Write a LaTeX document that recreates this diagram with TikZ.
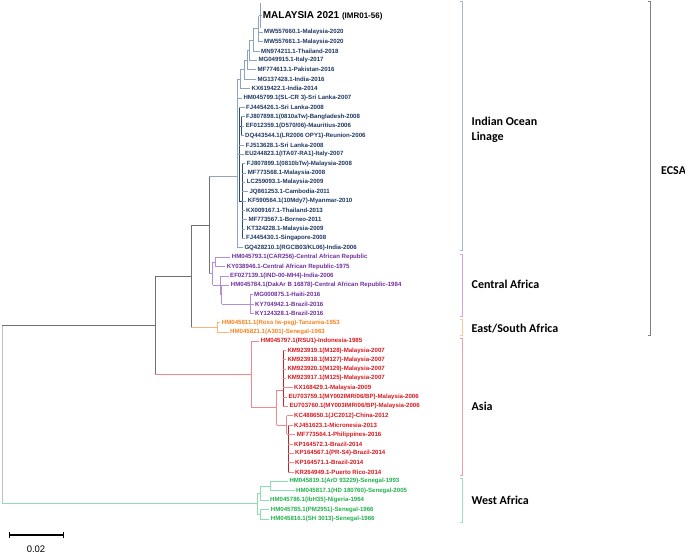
\documentclass[tikz,border=0pt]{standalone}
\usepackage{fontspec}
\setmainfont{Liberation Sans}
\newfontfamily\carl{Carlito}
\definecolor{iolT}{HTML}{1F3864}
\definecolor{iolL}{HTML}{8FA3C4}
\definecolor{iolD}{HTML}{2E4A7D}
\definecolor{caT}{HTML}{7030A0}
\definecolor{caL}{HTML}{B48EDB}
\definecolor{esT}{HTML}{F58220}
\definecolor{esL}{HTML}{F7B77A}
\definecolor{asT}{HTML}{D7191F}
\definecolor{asL}{HTML}{EE8A8A}
\definecolor{asD}{HTML}{C8202A}
\definecolor{waT}{HTML}{22B14C}
\definecolor{waL}{HTML}{8EDDB0}
\definecolor{bb}{HTML}{707070}
\definecolor{rootc}{HTML}{BFBFBF}
\definecolor{iolB}{HTML}{A8B8D4}
\definecolor{caB}{HTML}{C8A8E8}
\definecolor{esB}{HTML}{F9C89A}
\definecolor{asB}{HTML}{F0A0A0}
\definecolor{waB}{HTML}{9EE0B8}
\definecolor{ecsaB}{HTML}{7F7F7F}
\begin{document}
\begin{tikzpicture}[x=1pt,y=-1pt,
  lf/.style={anchor=west,inner xsep=1.5pt,inner ysep=0pt,font=\fontsize{6.1}{7}\selectfont\bfseries},
  li/.style={lf,text=iolT}, lc/.style={lf,text=caT}, le/.style={lf,text=esT},
  la/.style={lf,text=asT}, lw/.style={lf,text=waT},
  br/.style={line width=0.6pt},
  eb/.style={br,draw=bb}, ei/.style={br,draw=iolL}, ed/.style={br,draw=iolD},
  ec/.style={br,draw=caL}, ee/.style={br,draw=esL}, ea/.style={br,draw=asL},
  ead/.style={br,draw=asD}, ew/.style={br,draw=waL}, er/.style={br,draw=rootc},
  brk/.style={line width=0.7pt},
  region/.style={anchor=west,inner sep=0pt,align=left,font=\carl\bfseries\fontsize{12}{14.5}\selectfont}]
\useasboundingbox[fill=white] (0,0) rectangle (685,554);

% internal nodes
\coordinate (root) at (2,414.5);
\coordinate (A) at (155.3,325.2);
\coordinate (B) at (191,276.1);
\coordinate (C) at (208.8,225.2);
\coordinate (R) at (237.3,176.7);
\coordinate (n1) at (240,78.9);
\coordinate (n2) at (244,69.4);
\coordinate (n3) at (247.3,59.9);
\coordinate (n4) at (249.3,50);
\coordinate (n5) at (253.3,39.8);
\coordinate (n6) at (258.5,28.6);
\coordinate (clus) at (260.5,15.5);
\coordinate (clusT) at (260.5,3);
\coordinate (clusB) at (260.5,28);
\coordinate (P) at (239.3,154.2);
\coordinate (P1) at (240.8,126.3);
\coordinate (P2) at (242.3,201);
\coordinate (CAr) at (212.5,273.7);
\coordinate (CA1) at (215,262);
\coordinate (CA2) at (220,285.3);
\coordinate (CA3) at (221.7,294.7);
\coordinate (CA4) at (250,304);
\coordinate (ES) at (217,327.3);
\coordinate (AS) at (251.7,374.2);
\coordinate (AS1) at (276.7,407.5);
\coordinate (AS2) at (283.3,390);
\coordinate (AS3) at (286.7,425);
\coordinate (AS4) at (288.3,434.3);
\coordinate (W) at (257.3,503.7);
\coordinate (W1) at (260,493);
\coordinate (Wa) at (270,486);
\coordinate (W2) at (260,514.3);

% leaves: Indian Ocean
\node[anchor=west,inner xsep=1.5pt,inner ysep=0pt,font=\bfseries] (m21) at (261.2,15.5)
  {\fontsize{10}{12}\selectfont MALAYSIA 2021 {\fontsize{8}{10}\selectfont(IMR01-56)}};
\node[li] (i1) at (262.5,32.3) {MW557660.1-Malaysia-2020};
\node[li] (i2) at (262.5,41.7) {MW557661.1-Malaysia-2020};
\node[li] (i3) at (259.5,51) {MN974211.1-Thailand-2018};
\node[li] (i4) at (256.8,60.3) {MG049915.1-Italy-2017};
\node[li] (i5) at (255.8,69.7) {MF774613.1-Pakistan-2016};
\node[li] (i6) at (255.8,79) {MG137428.1-India-2016};
\node[li] (i7) at (250,88.3) {KX619422.1-India-2014};
\node[li] (i8) at (241.8,98.3) {HM045799.1(SL-CR 3)-Sri Lanka-2007};
\node[li] (i9) at (244.5,107.3) {FJ445426.1-Sri Lanka-2008};
\node[li] (i10) at (244.5,116.7) {FJ807898.1(0810aTw)-Bangladesh-2008};
\node[li] (i11) at (244.2,126.3) {EF012359.1(D570/06)-Mauritius-2006};
\node[li] (i12) at (243.5,135.7) {DQ443544.1(LR2006 OPY1)-Reunion-2006};
\node[li] (i13) at (244.2,145) {FJ513628.1-Sri Lanka-2008};
\node[li] (i14) at (243.5,154.3) {EU244823.1(ITA07-RA1)-Italy-2007};
\node[li] (i15) at (245.2,163.7) {FJ807899.1(0810bTw)-Malaysia-2008};
\node[li] (i16) at (246.2,173) {MF773568.1-Malaysia-2008};
\node[li] (i17) at (245.2,182) {LC259093.1-Malaysia-2009};
\node[li] (i18) at (247.8,191.7) {JQ861253.1-Cambodia-2011};
\node[li] (i19) at (246.2,201) {KF590564.1(10Mdy7)-Myanmar-2010};
\node[li] (i20) at (244.5,210.3) {KX009167.1-Thailand-2013};
\node[li] (i21) at (246.8,219.7) {MF773567.1-Borneo-2011};
\node[li] (i22) at (245.2,229) {KT324228.1-Malaysia-2009};
\node[li] (i23) at (244.5,238.3) {FJ445430.1-Singapore-2008};
\node[li] (i24) at (242.8,247.7) {GQ428210.1(RGCB03/KL06)-India-2006};
% Central Africa
\node[lc] (c1) at (230.2,257.3) {HM045793.1(CAR256)-Central African Republic};
\node[lc] (c2) at (225.2,266.7) {KY038946.1-Central African Republic-1975};
\node[lc] (c3) at (228.5,276) {EF027139.1(IND-00-MH4)-India-2006};
\node[lc] (c4) at (229.2,285.3) {HM045784.1(DakAr B 16878)-Central African Republic-1984};
\node[lc] (c5) at (252.5,294.7) {MG000875.1-Haiti-2016};
\node[lc] (c6) at (253.5,304) {KY704942.1-Brazil-2016};
\node[lc] (c7) at (253.5,313.3) {KY124328.1-Brazil-2016};
% East/South Africa
\node[le] (e1) at (220.2,322.7) {HM045811.1(Ross lw-psg)-Tanzania-1953};
\node[le] (e2) at (228.5,332) {HM045821.1(A301)-Senegal-1963};
% Asia
\node[la] (a1) at (259.2,341) {HM045797.1(RSU1)-Indonesia-1985};
\node[la] (a2) at (285.8,350.7) {KM923919.1(M128)-Malaysia-2007};
\node[la] (a3) at (285.8,359.7) {KM923918.1(M127)-Malaysia-2007};
\node[la] (a4) at (285.8,369) {KM923920.1(M129)-Malaysia-2007};
\node[la] (a5) at (285.8,378) {KM923917.1(M125)-Malaysia-2007};
\node[la] (a6) at (292.5,387.7) {KX168429.1-Malaysia-2009};
\node[la] (a7) at (286.8,397) {EU703759.1(MY002IMR/06/BP)-Malaysia-2006};
\node[la] (a8) at (287.8,406) {EU703760.1(MY003IMR/06/BP)-Malaysia-2006};
\node[la] (a9) at (292.5,415.7) {KC488650.1(JC2012)-China-2012};
\node[la] (a10) at (292.5,425) {KJ451623.1-Micronesia-2013};
\node[la] (a11) at (295.2,434.7) {MF773564.1-Philippines-2016};
\node[la] (a12) at (292.5,444) {KP164572.1-Brazil-2014};
\node[la] (a13) at (293.5,453) {KP164567.1(PR-S4)-Brazil-2014};
\node[la] (a14) at (293.5,462.7) {KP164571.1-Brazil-2014};
\node[la] (a15) at (293.5,472) {KR264949.1-Puerto Rico-2014};
% West Africa
\node[lw] (w1) at (287.8,481.3) {HM045819.1(ArD 93229)-Senegal-1993};
\node[lw] (w2) at (294.5,490.7) {HM045817.1(HD 180760)-Senegal-2005};
\node[lw] (w3) at (268.5,500) {HM045786.1(IbH35)-Nigeria-1964};
\node[lw] (w4) at (269.2,509.7) {HM045785.1(PM2951)-Senegal-1966};
\node[lw] (w5) at (269.2,519) {HM045816.1(SH 3013)-Senegal-1966};

% vertical spans (parent colour)
\draw[er] (root|-A) -- (root|-W);
\draw[eb] (A|-B) -- (A|-AS);
\draw[eb] (B|-C) -- (B|-ES);
\draw[eb] (C|-R) -- (C|-CAr);
\draw[ei] (R|-n1) -- (R|-i24);
\draw[ei] (n1|-n2) -- (n1|-i7);
\draw[ei] (n2|-n3) -- (n2|-i6);
\draw[ei] (n3|-n4) -- (n3|-i5);
\draw[ei] (n4|-n5) -- (n4|-i4);
\draw[ei] (n5|-n6) -- (n5|-i3);
\draw[ei] (n6|-clus) -- (n6|-i2);
\draw[ei,line width=1.2pt] (clusT) -- (clusB);
\draw[ed] (P|-i9) -- (P|-P2);
\draw[ed] (P1|-i10) -- (P1|-i12);
\draw[ed] (P2|-i15) -- (P2|-i23);
\draw[ec] (CAr|-CA1) -- (CAr|-CA2);
\draw[ec] (CA1|-c1) -- (CA1|-c2);
\draw[ec] (CA2|-c3) -- (CA2|-CA3);
\draw[ec] (CA3|-c4) -- (CA3|-CA4);
\draw[ec] (CA4|-c5) -- (CA4|-c7);
\draw[ee] (ES|-e1) -- (ES|-e2);
\draw[ea] (AS|-a1) -- (AS|-AS1);
\draw[ea] (AS1|-AS2) -- (AS1|-AS3);
\draw[ead] (AS2|-a2) -- (AS2|-a8);
\draw[ea] (AS3|-a9) -- (AS3|-AS4);
\draw[ead] (AS4|-a10) -- (AS4|-a15);
\draw[ew] (W|-W1) -- (W|-W2);
\draw[ew] (W1|-Wa) -- (W1|-w3);
\draw[ew] (Wa|-w1) -- (Wa|-w2);
\draw[ew] (W2|-w4) -- (W2|-w5);

% horizontal branches (child colour)
\draw[eb] (root|-A) -- (A);
\draw[ew] (root|-W) -- (W);
\draw[eb] (A|-B) -- (B);
\draw[ea] (A|-AS) -- (AS);
\draw[eb] (B|-C) -- (C);
\draw[ee] (B|-ES) -- (ES);
\draw[ei] (C|-R) -- (R);
\draw[ec] (C|-CAr) -- (CAr);
\draw[ei] (R|-n1) -- (n1);
\draw[ei] (R|-P) -- (P);
\draw[ei] (n1|-n2) -- (n2);
\draw[ei] (n2|-n3) -- (n3);
\draw[ei] (n3|-n4) -- (n4);
\draw[ei] (n4|-n5) -- (n5);
\draw[ei] (n5|-n6) -- (n6);
\draw[ei] (n6|-clus) -- (clus);
\draw[ei] (clus) -- (m21.west);
\draw[ed] (P|-P1) -- (P1);
\draw[ed] (P|-P2) -- (P2);
\draw[ec] (CAr|-CA1) -- (CA1);
\draw[ec] (CAr|-CA2) -- (CA2);
\draw[ec] (CA2|-CA3) -- (CA3);
\draw[ec] (CA3|-CA4) -- (CA4);
\draw[ea] (AS|-AS1) -- (AS1);
\draw[ea] (AS1|-AS2) -- (AS2);
\draw[ea] (AS1|-AS3) -- (AS3);
\draw[ea] (AS3|-AS4) -- (AS4);
\draw[ew] (W|-W1) -- (W1);
\draw[ew] (W|-W2) -- (W2);
\draw[ew] (W1|-Wa) -- (Wa);
% leaf branches
\foreach \p/\l in {n6/i1,n6/i2,n5/i3,n4/i4,n3/i5,n2/i6,n1/i7,R/i8,R/i24,P/i9,P1/i10,P1/i11,P1/i12,P/i13,P/i14,
  P2/i15,P2/i16,P2/i17,P2/i18,P2/i19,P2/i20,P2/i21,P2/i22,P2/i23}
  \draw[ei] (\p|-\l) -- (\l.west);
\foreach \p/\l in {CA1/c1,CA1/c2,CA2/c3,CA3/c4,CA4/c5,CA4/c6,CA4/c7}
  \draw[ec] (\p|-\l) -- (\l.west);
\foreach \p/\l in {ES/e1,ES/e2}
  \draw[ee] (\p|-\l) -- (\l.west);
\foreach \p/\l in {AS/a1,AS2/a2,AS2/a3,AS2/a4,AS2/a5,AS2/a6,AS2/a7,AS2/a8,AS3/a9,AS4/a10,AS4/a11,AS4/a12,AS4/a13,AS4/a14,AS4/a15}
  \draw[ea] (\p|-\l) -- (\l.west);
\foreach \p/\l in {Wa/w1,Wa/w2,W1/w3,W2/w4,W2/w5}
  \draw[ew] (\p|-\l) -- (\l.west);

% brackets
\coordinate (bIt) at (462.7,1);   \coordinate (bIb) at (462.7,250.7);
\coordinate (bCt) at (462.7,254); \coordinate (bCb) at (462.7,316);
\coordinate (bEt) at (462.7,319.3); \coordinate (bEb) at (462.7,335);
\coordinate (bAt) at (462.7,338.3); \coordinate (bAb) at (462.7,475);
\coordinate (bWt) at (462.7,478.7); \coordinate (bWb) at (462.7,522.3);
\coordinate (bXt) at (650,1);     \coordinate (bXb) at (650,335);
\draw[brk,draw=iolB] (bIt) ++(-2.5,0) -- (bIt) -- (bIb) -- ++(-2.5,0);
\draw[brk,draw=caB] (bCt) ++(-2.5,0) -- (bCt) -- (bCb) -- ++(-2.5,0);
\draw[brk,draw=esB] (bEt) ++(-2.5,0) -- (bEt) -- (bEb) -- ++(-2.5,0);
\draw[brk,draw=asB] (bAt) ++(-2.5,0) -- (bAt) -- (bAb) -- ++(-2.5,0);
\draw[brk,draw=waB] (bWt) ++(-2.5,0) -- (bWt) -- (bWb) -- ++(-2.5,0);
\draw[brk,draw=ecsaB] (bXt) ++(-2.5,0) -- (bXt) -- (bXb) -- ++(-2.5,0);

% region labels
\node[region] (rI) at (471.5,130) {Indian Ocean\\Linage};
\node[region] (rC) at (471.5,284.7) {Central Africa};
\node[region] (rE) at (471.5,329) {East/South Africa};
\node[region] (rA) at (471.5,406) {Asia};
\node[region] (rW) at (471.5,500.3) {West Africa};
\node[region] (rX) at (661,171) {ECSA};

% scale bar
\coordinate (sb1) at (9,535);
\coordinate (sb2) at (63.3,535);
\draw[line width=1.3pt] (sb1) -- (sb2);
\draw[line width=1pt] (sb1) ++(0,-2.8) -- ++(0,5.6);
\draw[line width=1pt] (sb2) ++(0,-2.8) -- ++(0,5.6);
\node[inner sep=0pt,font=\fontsize{9.5}{11}\selectfont] (sbl) at (36,549.3) {0.02};
\end{tikzpicture}
\end{document}
